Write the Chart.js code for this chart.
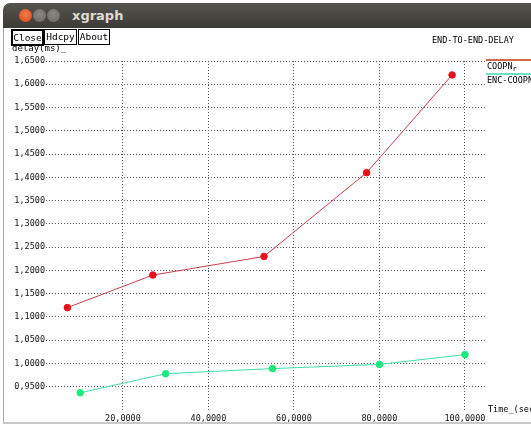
<!DOCTYPE html>
<html>
<head>
<meta charset="utf-8">
<script src="https://cdn.jsdelivr.net/npm/chart.js@4/dist/chart.umd.min.js"></script>
<style>
  html, body { margin: 0; padding: 0; background: #ffffff; }
  #win { position: relative; width: 531px; height: 424px; overflow: hidden; background: #ffffff; }
  #titlebar {
    position: absolute; left: 3px; top: 3px; width: 540px; height: 25px;
    background: linear-gradient(#55544f, #3c3b37);
    border-radius: 7px 7px 0 0;
  }
  .wbtn { position: absolute; top: 6px; width: 13px; height: 13px; border-radius: 50%; }
  #wclose { left: 16px; background: radial-gradient(circle at 50% 40%, #f37b4f, #dd4814); }
  #wmin { left: 30px; background: radial-gradient(circle at 50% 40%, #8a8984, #67665f); }
  #wmax { left: 44px; background: radial-gradient(circle at 50% 40%, #8a8984, #67665f); }
  #wtitle {
    position: absolute; left: 69px; top: 5px; color: #dfdbd2;
    font: bold 13px "DejaVu Sans", sans-serif;
  }
  #frameL { position: absolute; left: 3px; top: 28px; width: 1px; height: 394px; background: #a8a8a8; }
  #frameB { position: absolute; left: 3px; top: 422px; width: 540px; height: 2px; background: #c8c8c8; }
  canvas#chart { position: absolute; left: 0; top: 0; }
  .mono { font-family: "DejaVu Sans Mono", "Liberation Mono", monospace; color: #000; white-space: nowrap; }
  #ylabel { position: absolute; left: 12px; top: 43px; font-size: 9px; }
  .btn {
    position: absolute; top: 29px; height: 14px; background: #ffffff;
    border: 1px solid #000; font-size: 9.5px; line-height: 14px; text-align: center;
  }
  #bClose { left: 11px; width: 29px; border-width: 2px; height: 13px; line-height: 13px; }
  #bHdcpy { left: 44px; width: 31px; }
  #bAbout { left: 78px; width: 30px; }
  #gtitle { position: absolute; left: 432px; top: 35px; font-size: 8.5px; }
  #xlabel { position: absolute; left: 488px; top: 404px; font-size: 8.5px; }
  #legend { position: absolute; left: 486px; top: 59px; }
  .legrow { position: relative; height: 14px; }
  .legline { position: absolute; left: 0; top: 0; width: 60px; height: 2px; }
  .legtext { position: absolute; left: 1px; top: 2px; font-size: 8.5px; line-height: 10px; }
  .legtext sub { font-size: 7px; vertical-align: -2px; }
</style>
</head>
<body>
<div id="win">
  <canvas id="chart" width="531" height="424"></canvas>
  <div id="titlebar">
    <div class="wbtn" id="wclose"></div>
    <div class="wbtn" id="wmin"></div>
    <div class="wbtn" id="wmax"></div>
    <div id="wtitle">xgraph</div>
  </div>
  <div id="frameL"></div>
  <div id="frameB"></div>
  <div id="ylabel" class="mono">delay(ms)_</div>
  <div id="bClose" class="btn mono">Close</div>
  <div id="bHdcpy" class="btn mono">Hdcpy</div>
  <div id="bAbout" class="btn mono">About</div>
  <div id="gtitle" class="mono">END-TO-END-DELAY</div>
  <div id="xlabel" class="mono">Time_(sec</div>
  <div id="legend"></div>
</div>
<script>
// Simulation time (sec) for each run
const coopnTime = [7, 27, 53, 77, 97];
const encTime = [10, 30, 55, 80, 100];
// End-to-end delay (ms)
const coopnDelay = [1.12, 1.19, 1.23, 1.41, 1.62];
const encDelay = [0.937, 0.978, 0.989, 0.998, 1.019];
// Grid positions
const xTickValues = [20, 40, 60, 80, 100];
const yTickValues = [0.95, 1.00, 1.05, 1.10, 1.15, 1.20, 1.25, 1.30, 1.35, 1.40, 1.45, 1.50, 1.55, 1.60, 1.65];

const seriesNames = ['COOPN', 'ENC-COOPN'];
const seriesSub = ['r', ''];
const lineColors = ['#c8404c', '#3fe0a8'];
const pointColors = ['#e8101a', '#1ee87e'];
const legendColors = ['#d0684c', '#6fe0c4'];

const fmt = v => v.toFixed(4).replace('.', ',');
const pairs = (xs, ys) => xs.map((x, i) => ({ x: x, y: ys[i] }));

// legend block at the right edge
const legend = document.getElementById('legend');
seriesNames.forEach((name, i) => {
  const row = document.createElement('div');
  row.className = 'legrow';
  row.innerHTML = '<div class="legline" style="background:' + legendColors[i] + '"></div>' +
    '<div class="legtext mono">' + name + (seriesSub[i] ? '<sub>' + seriesSub[i] + '</sub>' : '') + '</div>';
  legend.appendChild(row);
});

const gridStyle = { color: '#5a5a5a', lineWidth: 1, drawTicks: false };
const font = { family: '"DejaVu Sans Mono", monospace', size: 8.5 };

new Chart(document.getElementById('chart'), {
  type: 'line',
  data: {
    datasets: [
      {
        label: seriesNames[0], data: pairs(coopnTime, coopnDelay),
        borderColor: lineColors[0], borderWidth: 1,
        pointBackgroundColor: pointColors[0], pointBorderColor: pointColors[0],
        pointRadius: 3.3, tension: 0
      },
      {
        label: seriesNames[1], data: pairs(encTime, encDelay),
        borderColor: lineColors[1], borderWidth: 1,
        pointBackgroundColor: pointColors[1], pointBorderColor: pointColors[1],
        pointRadius: 3.3, tension: 0
      }
    ]
  },
  options: {
    responsive: false,
    animation: false,
    events: [],
    layout: { padding: { left: 0, top: 61, right: 46, bottom: 0 } },
    plugins: { legend: { display: false }, tooltip: { enabled: false } },
    scales: {
      x: {
        type: 'linear', min: 2, max: 104.7,
        grid: gridStyle,
        border: { display: false, dash: [1, 2] },
        ticks: { color: '#111', font: font, padding: 4, maxRotation: 0, autoSkip: false,
                 callback: v => fmt(v) },
        afterBuildTicks: s => { s.ticks = xTickValues.map(v => ({ value: v })); },
        afterFit: s => { s.height = 14; }
      },
      y: {
        type: 'linear', min: 0.9, max: 1.65,
        grid: gridStyle,
        border: { display: false, dash: [1, 2] },
        ticks: { color: '#111', font: font, padding: 1, autoSkip: false,
                 callback: v => fmt(v) },
        afterBuildTicks: s => { s.ticks = yTickValues.map(v => ({ value: v })); },
        afterFit: s => { s.width = 46; }
      }
    }
  }
});
</script>
</body>
</html>
